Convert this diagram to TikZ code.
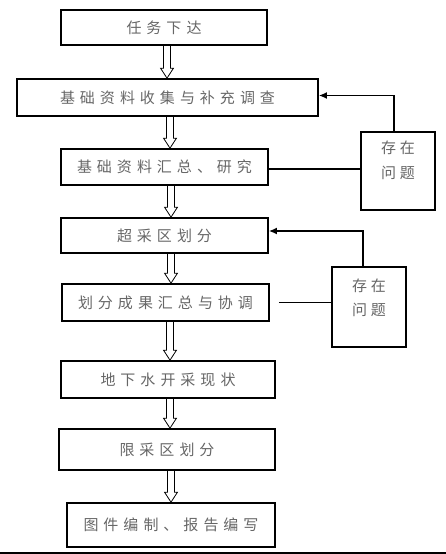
\documentclass[tikz,border=0pt]{standalone}
\usepackage{fontspec}
\newfontfamily\cjk{Noto Sans CJK SC}
\usetikzlibrary{arrows.meta,calc}
\newdimen\cjkgap \cjkgap=5pt
\def\spaced#1{\spacedaux#1\relax}
\def\spacedaux#1{\ifx\relax#1\else #1\kern\cjkgap\expandafter\spacedaux\fi}
\newcommand{\sptxt}[1]{\spaced{#1}\unkern}
\tikzset{
  box/.style={draw, line width=1.7pt, inner sep=0pt, font=\cjk\fontsize{15}{24}\selectfont, text=black!60},
  sidebox/.style={draw, line width=1.7pt, inner sep=0pt, minimum width=74pt},
  sidetext/.style={align=center, inner sep=0pt, font=\cjk\fontsize{15}{24.5}\selectfont, text=black!60},
  hollow/.style={line width=0.8pt, line join=miter},
  fb/.style={line width=1.8pt, -{Latex[length=8pt,width=7pt]}},
  plain/.style={line width=1.8pt}
}
\newcommand{\harrow}[3]{% upper node, lower node, x of shaft
  \coordinate (hx) at (#3,0);
  \draw[hollow] ($(hx |- #1.south)+(-3.5,0)$) -- ($(hx |- #2.north)+(-3.5,10)$) -- ($(hx |- #2.north)+(-6.5,10)$)
    -- (hx |- #2.north) -- ($(hx |- #2.north)+(6.5,10)$) -- ($(hx |- #2.north)+(3.5,10)$) -- ($(hx |- #1.south)+(3.5,0)$);
}
\begin{document}
\begin{tikzpicture}[x=1pt,y=1pt]
\useasboundingbox (0,0) rectangle (446,-554);
\node[box, minimum width=206pt, minimum height=35pt] (b1) at (164,-27.5) {\sptxt{任务下达}};
\node[box, minimum width=301pt, minimum height=37pt] (b2) at (167.5,-97.5) {\sptxt{基础资料收集与补充调查}};
\node[box, minimum width=207pt, minimum height=36pt] (b3) at (164.5,-167) {\sptxt{基础资料汇总、研究}};
\node[box, minimum width=207pt, minimum height=35pt] (b4) at (164.5,-235.5) {\sptxt{超采区划分}};
\node[box, minimum width=207pt, minimum height=37pt] (b5) at (165.5,-302.5) {\sptxt{划分成果汇总与协调}};
\node[box, minimum width=214pt, minimum height=37pt] (b6) at (168,-379.5) {\sptxt{地下水开采现状}};
\node[box, minimum width=216pt, minimum height=41pt] (b7) at (167,-449.5) {\sptxt{限采区划分}};
\node[box, minimum width=208pt, minimum height=44pt] (b8) at (171,-525) {\sptxt{图件编制、报告编写}};

\node[sidebox, minimum height=78pt] (s1) at (398,-171) {};
\node[sidetext] (t1) at (398,-160.5) {\cjkgap=4pt\sptxt{存在}\\\cjkgap=4pt\sptxt{问题}};
\node[sidebox, minimum height=80pt] (s2) at (369,-307) {};
\node[sidetext] (t2) at (369,-298) {\cjkgap=4pt\sptxt{存在}\\\cjkgap=4pt\sptxt{问题}};

\harrow{b1}{b2}{167}
\harrow{b2}{b3}{170}
\harrow{b3}{b4}{171}
\harrow{b4}{b5}{171}
\harrow{b5}{b6}{170}
\harrow{b6}{b7}{170}
\harrow{b7}{b8}{171}

\draw[fb] ([xshift=-4pt]s1.north) |- ([yshift=2pt]b2.east);
\draw[plain] ([yshift=-2pt]b3.east) -- ([yshift=-2pt]b3.east -| s1.west);
\draw[fb] ([xshift=-6pt]s2.north) |- ([yshift=4.5pt]b4.east);
\coordinate (g5) at ([xshift=9pt]b5.east);
\draw[plain] (g5) -- (g5 -| s2.west);

\coordinate (bl) at (0,-553);
\coordinate (br) at (446,-553);
\draw[line width=2pt] (bl) -- (br);
\end{tikzpicture}
\end{document}
